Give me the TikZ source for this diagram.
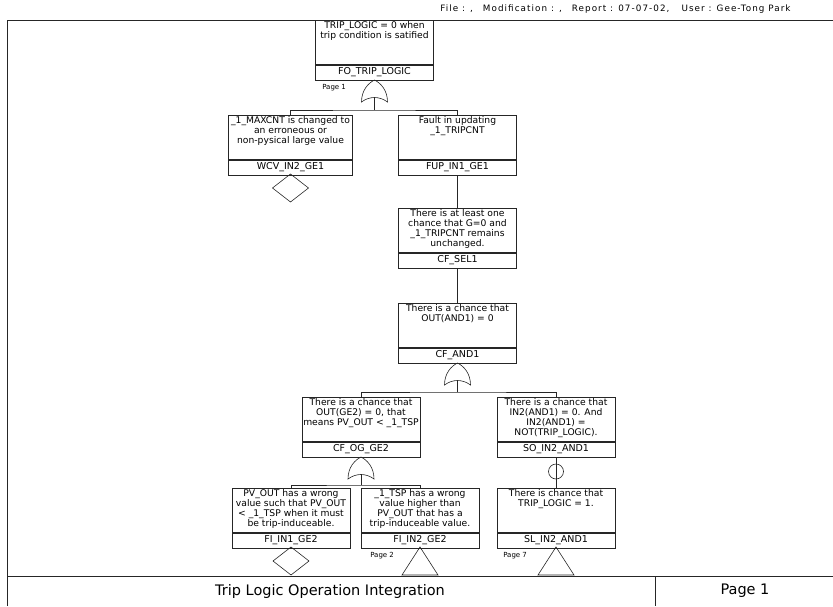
\documentclass[tikz,border=0pt]{standalone}
\usepackage{fontspec}
\setmainfont{DejaVu Sans}
\usetikzlibrary{shapes.geometric}
\begin{document}
\begin{tikzpicture}[x=1pt,y=-1pt, line width=0.6pt, draw=black!85,
 dbox/.style={draw, minimum width=118pt, minimum height=44pt, anchor=north, inner sep=0pt},
 dtext/.style={anchor=north, align=center, font=\fontsize{9.2}{10}\selectfont, inner sep=1.2pt},
 lbox/.style={draw, minimum width=118pt, minimum height=15pt, anchor=north, inner sep=0pt, font=\fontsize{9.5}{10}\selectfont},
 pg/.style={font=\fontsize{7}{8}\selectfont, inner sep=0pt, anchor=west},
 pics/orgate/.style={code={
   \draw (-13,22) .. controls (-13,10) and (-6,3) .. (0,0) .. controls (6,3) and (13,10) .. (13,22) .. controls (5,16) and (-5,16) .. (-13,22) -- cycle;
   \coordinate (-top) at (0,0); \coordinate (-bot) at (0,17);}},
 pics/xfer/.style={code={\draw (0,0) -- (-18,28) -- (18,28) -- cycle; \coordinate (-top) at (0,0);}},
 pics/undev/.style={code={\draw (0,0) -- (-18,14) -- (0,28) -- (18,14) -- cycle; \coordinate (-top) at (0,0);}},
]
\useasboundingbox (0,0) rectangle (833,606);
% header and frame
\node[font=\fontsize{8.8}{10}\selectfont\addfontfeature{LetterSpace=12}, anchor=west, inner sep=0pt] (hdr) at (440,9) {File : ,\hspace{10pt}Modification : ,\hspace{10pt}Report : 07-07-02,\hspace{12pt}User : Gee-Tong Park};
\draw (7,606) -- (7,20) -- (833,20);
\draw (7,576) -- (833,576);
\draw (655,576) -- (655,606);
\node[font=\fontsize{14.5}{16}\selectfont] (title) at (330,591) {Trip Logic Operation Integration};
\node[font=\fontsize{14.5}{16}\selectfont] (pgn) at (745,591) {Page 1};

% top event
\node[dbox] (fo) at (374.5,20) {};
\node[dtext] (fo-t) at (fo.north) {TRIP\_LOGIC = 0 when\\trip condition is satified};
\node[lbox] (fo-l) at (fo.south) {FO\_TRIP\_LOGIC};
\node[pg] (p1) at (322,88) {Page 1};
\pic (g1) at (374.5,80) {orgate};
\draw (fo-l.south) -- (g1-top);
\coordinate (b1) at (374.5,110);
\draw (g1-bot) -- (b1);

% second row
\node[dbox, minimum width=124pt] (wcv) at (290.5,115) {};
\node[dtext] (wcv-t) at (wcv.north) {\_1\_MAXCNT is changed to\\an erroneous or\\non-pysical large value};
\node[lbox, minimum width=124pt] (wcv-l) at (wcv.south) {WCV\_IN2\_GE1};
\pic (d1) at (290.5,174) {undev};

\node[dbox] (fup) at (457.5,115) {};
\node[dtext] (fup-t) at (fup.north) {Fault in updating\\\_1\_TRIPCNT};
\node[lbox] (fup-l) at (fup.south) {FUP\_IN1\_GE1};
\draw (wcv.north) |- (b1) -| (fup.north);

% chain
\node[dbox] (sel) at (457.5,208) {};
\node[dtext] (sel-t) at (sel.north) {There is at least one\\chance that G=0 and\\\_1\_TRIPCNT remains\\unchanged.};
\node[lbox] (sel-l) at (sel.south) {CF\_SEL1};
\draw (fup-l.south) -- (sel.north);

\node[dbox] (and) at (457.5,303) {};
\node[dtext] (and-t) at (and.north) {There is a chance that\\OUT(AND1) = 0};
\node[lbox] (and-l) at (and.south) {CF\_AND1};
\draw (sel-l.south) -- (and.north);
\pic (g2) at (457.5,363) {orgate};
\draw (and-l.south) -- (g2-top);
\coordinate (b2) at (457.5,392);
\draw (g2-bot) -- (b2);

% third row
\node[dbox] (og) at (361,397) {};
\node[dtext] (og-t) at (og.north) {There is a chance that\\OUT(GE2) = 0, that\\means PV\_OUT < \_1\_TSP};
\node[lbox] (og-l) at (og.south) {CF\_OG\_GE2};

\node[dbox] (so) at (556,397) {};
\node[dtext] (so-t) at (so.north) {There is a chance that\\IN2(AND1) = 0. And\\IN2(AND1) =\\NOT(TRIP\_LOGIC).};
\node[lbox] (so-l) at (so.south) {SO\_IN2\_AND1};
\draw (og.north) |- (b2) -| (so.north);

\pic (g3) at (361,457) {orgate};
\draw (og-l.south) -- (g3-top);
\coordinate (b3) at (361,485);
\draw (g3-bot) -- (b3);

% bottom row
\node[dbox] (fi1) at (291,488) {};
\node[dtext] (fi1-t) at (fi1.north) {PV\_OUT has a wrong\\value such that PV\_OUT\\< \_1\_TSP when it must\\be trip-induceable.};
\node[lbox] (fi1-l) at (fi1.south) {FI\_IN1\_GE2};
\pic (d2) at (291,547) {undev};

\node[dbox] (fi2) at (420,488) {};
\node[dtext] (fi2-t) at (fi2.north) {\_1\_TSP has a wrong\\value higher than\\PV\_OUT that has a\\trip-induceable value.};
\node[lbox] (fi2-l) at (fi2.south) {FI\_IN2\_GE2};
\pic (t1) at (420,547) {xfer};
\node[pg] (p2) at (370,556) {Page 2};
\draw (fi1.north) |- (b3) -| (fi2.north);

\node[dbox] (sl) at (556,488) {};
\node[dtext] (sl-t) at (sl.north) {There is chance that\\TRIP\_LOGIC = 1.};
\node[lbox] (sl-l) at (sl.south) {SL\_IN2\_AND1};
\pic (t2) at (556,547) {xfer};
\node[pg] (p7) at (503,556) {Page 7};
\node[circle, draw, minimum size=15pt, inner sep=0pt] (c1) at (556,471.5) {};
\draw (so-l.south) -- (sl.north);
\end{tikzpicture}
\end{document}
